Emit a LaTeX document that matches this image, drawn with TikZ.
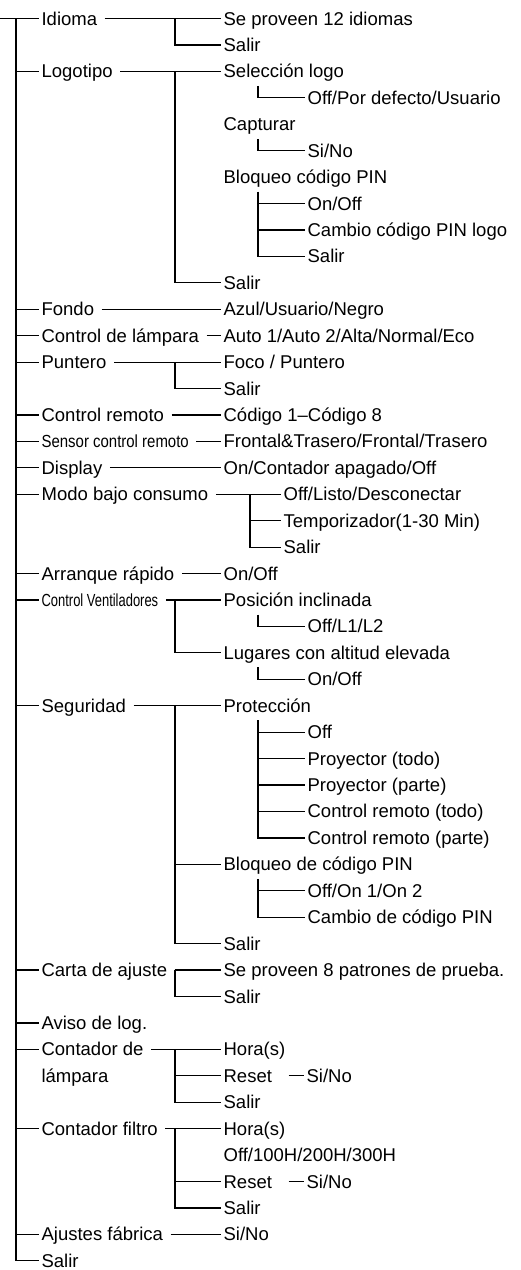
\documentclass[tikz,border=0pt]{standalone}
\usepackage{fontspec}
\setmainfont{Liberation Sans}
\usepackage{graphicx}
\usetikzlibrary{calc}

\newcommand{\narrowtext}[2]{\scalebox{#1}[1]{#2}}

\begin{document}
\begin{tikzpicture}[
    x=1pt, y=-26.43pt,
    font=\fontsize{18.5}{22}\selectfont,
    item/.style={anchor=west, inner xsep=2pt, inner ysep=0pt,
                 text height=13pt, text depth=0pt},
    narrow/.style={item, font=\fontsize{17.5}{21}\selectfont},
    tree/.style={line width=1.2pt},
    every path/.style={tree}
]
\useasboundingbox (0,-0.70) rectangle (520,47.347);

\coordinate (root) at (0,0);
\coordinate (t) at (16,0);
\coordinate (u) at (175,0);
\coordinate (w) at (258,0);
\coordinate (m) at (250,0);

% main menu
\node[item] (idioma)   at (39,0)  {Idioma};
\node[item] (logo)     at (39,2)  {Logotipo};
\node[item] (fondo)    at (39,11) {Fondo};
\node[item] (lampara)  at (39,12) {Control de lámpara};
\node[item] (puntero)  at (39,13) {Puntero};
\node[item] (remoto)   at (39,15) {Control remoto};
\node[narrow] (sensor) at (39,16) {\narrowtext{0.855}{Sensor control remoto}};
\node[item] (display)  at (39,17) {Display};
\node[item] (modo)     at (39,18) {Modo bajo consumo};
\node[item] (arranque) at (39,21) {Arranque rápido};
\node[narrow] (venti)  at (39,22) {\narrowtext{0.74}{Control Ventiladores}};
\node[item] (segur)    at (39,26) {Seguridad};
\node[item] (carta)    at (39,36) {Carta de ajuste};
\node[item] (aviso)    at (39,38) {Aviso de log.};
\node[item] (cntlamp)  at (39,39) {Contador de};
\node[item] (cntlamp2) at (39,40) {lámpara};
\node[item] (filtro)   at (39,42) {Contador filtro};
\node[item] (fabrica)  at (39,46) {Ajustes fábrica};
\node[item] (salir)    at (39,47) {Salir};

% second level
\node[item] (idiomas)   at (221,0)  {Se proveen 12 idiomas};
\node[item] (idiomasal) at (221,1)  {Salir};
\node[item] (sellogo)   at (221,2)  {Selección logo};
\node[item] (captura)   at (221,4)  {Capturar};
\node[item] (pinlogo)   at (221,6)  {Bloqueo código PIN};
\node[item] (logosal)   at (221,10) {Salir};
\node[item] (fondoval)  at (221,11) {Azul/Usuario/Negro};
\node[item] (lampval)   at (221,12) {Auto 1/Auto 2/Alta/Normal/Eco};
\node[item] (foco)      at (221,13) {Foco / Puntero};
\node[item] (puntsal)   at (221,14) {Salir};
\node[item] (codigo)    at (221,15) {Código 1–Código 8};
\node[item] (sensval)   at (221,16) {Frontal\&Trasero/Frontal/Trasero};
\node[item] (dispval)   at (221,17) {On/Contador apagado/Off};
\node[item] (modoopc)   at (281,18) {Off/Listo/Desconectar};
\node[item] (temp)      at (281,19) {Temporizador(1-30 Min)};
\node[item] (modosal)   at (281,20) {Salir};
\node[item] (arrval)    at (221,21) {On/Off};
\node[item] (inclin)    at (221,22) {Posición inclinada};
\node[item] (altitud)   at (221,24) {Lugares con altitud elevada};
\node[item] (protec)    at (221,26) {Protección};
\node[item] (pinseg)    at (221,32) {Bloqueo de código PIN};
\node[item] (segsal)    at (221,35) {Salir};
\node[item] (patron)    at (221,36) {Se proveen 8 patrones de prueba.};
\node[item] (cartasal)  at (221,37) {Salir};
\node[item] (horas)     at (221,39) {Hora(s)};
\node[item] (reset)     at (221,40) {Reset};
\node[item] (lampsal)   at (221,41) {Salir};
\node[item] (fhoras)    at (221,42) {Hora(s)};
\node[item] (fopc)      at (221,43) {Off/100H/200H/300H};
\node[item] (freset)    at (221,44) {Reset};
\node[item] (fsal)      at (221,45) {Salir};
\node[item] (fabval)    at (221,46) {Si/No};

% third level
\node[item] (logoopc)   at (305,3)  {Off/Por defecto/Usuario};
\node[item] (capopc)    at (305,5)  {Si/No};
\node[item] (pinon)     at (305,7)  {On/Off};
\node[item] (pincambio) at (305,8)  {Cambio código PIN logo};
\node[item] (pinsal)    at (305,9)  {Salir};
\node[item] (inclopc)   at (305,23) {Off/L1/L2};
\node[item] (altopc)    at (305,25) {On/Off};
\node[item] (poff)      at (305,27) {Off};
\node[item] (ptodo)     at (305,28) {Proyector (todo)};
\node[item] (pparte)    at (305,29) {Proyector (parte)};
\node[item] (rtodo)     at (305,30) {Control remoto (todo)};
\node[item] (rparte)    at (305,31) {Control remoto (parte)};
\node[item] (pinopc)    at (305,33) {Off/On 1/On 2};
\node[item] (pincam)    at (305,34) {Cambio de código PIN};
\node[item] (rsino)     at (304,40) {Si/No};
\node[item] (fsino)     at (304,44) {Si/No};

% trunk
\draw (root) -- (idioma.west);
\draw (t) |- (salir.west);
\foreach \n in {logo,fondo,lampara,puntero,remoto,sensor,display,modo,
                arranque,venti,segur,carta,aviso,cntlamp,filtro,fabrica}
    \draw (t |- \n.west) -- (\n.west);

% first to second level
\foreach \a/\b in {idioma/idiomas, logo/sellogo, fondo/fondoval,
                   lampara/lampval, puntero/foco, remoto/codigo,
                   sensor/sensval, display/dispval, modo/modoopc,
                   arranque/arrval, venti/inclin, segur/protec,
                   carta/patron, cntlamp/horas, filtro/fhoras,
                   fabrica/fabval}
    \draw ([xshift=5pt]\a.east) -- (\b.west);

\draw (u |- idiomas.west) |- (idiomasal.west);
\draw (u |- sellogo.west) |- (logosal.west);
\draw (u |- foco.west) |- (puntsal.west);
\draw (m |- modoopc.west) |- (modosal.west);
\draw (m |- temp.west) -- (temp.west);
\draw (u |- inclin.west) |- (altitud.west);
\draw (u |- protec.west) |- (segsal.west);
\draw (u |- pinseg.west) -- (pinseg.west);
\draw (u |- patron.west) |- (cartasal.west);
\draw (u |- horas.west) |- (lampsal.west);
\draw (u |- reset.west) -- (reset.west);
\draw (u |- fhoras.west) |- (fsal.west);
\draw (u |- freset.west) -- (freset.west);
\draw ([xshift=14pt]reset.east) -- (rsino.west);
\draw ([xshift=14pt]freset.east) -- (fsino.west);

% third level
\foreach \a/\b in {sellogo/logoopc, captura/capopc, pinlogo/pinsal,
                   inclin/inclopc, altitud/altopc, protec/rparte,
                   pinseg/pincam}
    \draw ($(w |- \a.west)+(0,0.55)$) |- (\b.west);
\foreach \n in {pinon,pincambio,poff,ptodo,pparte,rtodo,pinopc}
    \draw (w |- \n.west) -- (\n.west);
\end{tikzpicture}
\end{document}
